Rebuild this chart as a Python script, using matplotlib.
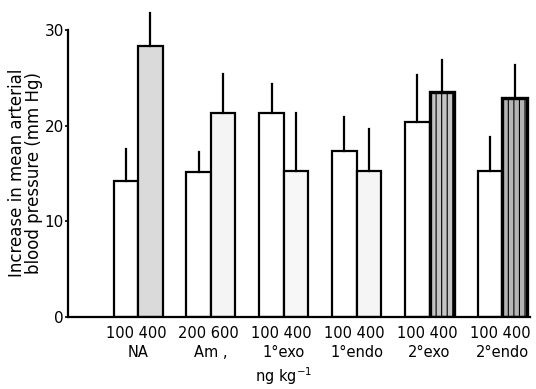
import matplotlib
matplotlib.use("Agg")
import matplotlib.pyplot as plt
import numpy as np

groups = ["NA", "Am ,", "1°exo", "1°endo", "2°exo", "2°endo"]
dose_low = ["100", "200", "100", "100", "100", "100"]
dose_high = ["400", "600", "400", "400", "400", "400"]
low_vals = [14.2, 15.2, 21.3, 17.3, 20.4, 15.3]
low_err = [3.4, 2.0, 3.0, 3.6, 4.9, 3.5]
high_vals = [28.3, 21.3, 15.3, 15.3, 23.5, 22.9]
high_err = [3.5, 4.1, 6.0, 4.4, 3.4, 3.4]
high_colors = ["#dadada", "#f4f4f4", "#f7f7f7", "#f5f5f5", "#c4c4c4", "#b4b4b4"]

plt.rcParams['font.family'] = ['DejaVu Sans']
plt.rcParams['hatch.color'] = '#8a8a8a'
plt.rcParams['hatch.linewidth'] = 0.8

fig = plt.figure(figsize=(5.36, 3.89), dpi=100)
ax = fig.add_axes([0.127, 0.185, 0.862, 0.738])

x = np.arange(len(groups))
w = 0.336
lw = 1.6
ax.bar(x - w / 2, low_vals, width=w, color="white", edgecolor="black", linewidth=lw, zorder=2)
for i in range(len(groups)):
    thick = lw + (0.8 if i >= 4 else 0)
    ax.bar(x[i] + w / 2, high_vals[i], width=w, color=high_colors[i], edgecolor="black",
           linewidth=thick, zorder=2, hatch="|||" if i >= 4 else None)
for i in range(len(groups)):
    ax.plot([x[i] - w / 2] * 2, [low_vals[i], low_vals[i] + low_err[i]], color="black", lw=1.6,
            clip_on=False, zorder=3)
    ax.plot([x[i] + w / 2] * 2, [high_vals[i], high_vals[i] + high_err[i]], color="black", lw=1.6,
            clip_on=False, zorder=3)

ax.set_xlim(-0.96, 5.38)
ax.set_ylim(0, 30)
ax.set_yticks([0, 10, 20, 30])
ax.tick_params(axis="y", direction="out", length=2, width=1.2, pad=1, labelsize=11)
ax.set_xticks([])
for s in ["top", "right"]:
    ax.spines[s].set_visible(False)
ax.spines["left"].set_linewidth(1.6)
ax.spines["bottom"].set_linewidth(1.6)

fs = 10.5
for i in range(len(groups)):
    ax.text(x[i] - 0.03, -0.9, f"{dose_low[i]} {dose_high[i]}", ha="center", va="top", fontsize=fs)
    ax.text(x[i], -2.9, groups[i], ha="center", va="top", fontsize=fs)
ax.text(2.0, -5.0, "ng kg$^{-1}$", ha="center", va="top", fontsize=fs)

fig.text(0.048, 0.555, "Increase in mean arterial\nblood pressure (mm Hg)", rotation=90,
         ha="center", va="center", fontsize=12, linespacing=0.95)

fig.savefig("out.png", dpi=100)
